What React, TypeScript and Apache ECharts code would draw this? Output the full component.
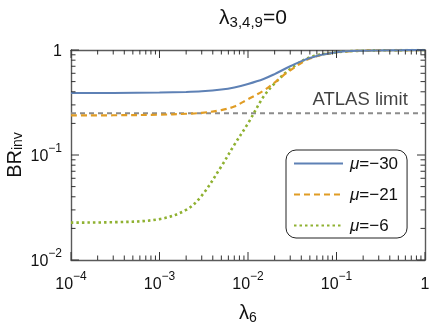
import React, { useEffect, useRef } from "react";
import * as echarts from "echarts";

const FONT = "'Liberation Sans', Arial, Helvetica, sans-serif";

// lambda_6 sample points
const lambda6 = [1e-4, 3e-4, 1e-3, 2e-3, 3e-3, 5e-3, 7e-3, 1e-2, 1.5e-2, 2e-2, 3e-2, 5e-2, 0.1, 0.2, 0.5, 1];
// BR_inv for each mu
const brMuM30 = [0.39, 0.39, 0.393, 0.398, 0.404, 0.42, 0.44, 0.475, 0.53, 0.59, 0.7, 0.84, 0.95, 0.985, 0.997, 1.0];
const brMuM21 = [0.238, 0.239, 0.242, 0.247, 0.252, 0.268, 0.29, 0.34, 0.41, 0.49, 0.64, 0.83, 0.95, 0.985, 0.997, 1.0];
const brMuM6 = [0.0227, 0.0229, 0.0245, 0.03, 0.041, 0.078, 0.125, 0.2, 0.36, 0.48, 0.66, 0.85, 0.95, 0.985, 0.997, 1.0];
const seriesNames = ["μ=−30", "μ=−21", "μ=−6"];
const colors = ["#5E81B5", "#E09C24", "#8FB131"];
const atlasLimit = 0.25;
const atlasLabel = "ATLAS limit";
const atlasLabelX = 0.185;

const xRange = [1e-4, 1];
const yRange = [1e-2, 1];
const xDecades = [-4, -3, -2, -1, 0];
const yDecades = [-2, -1, 0];

function tickList(decades: number[]) {
  const out: [number, number][] = [];
  decades.forEach((d, i) => {
    out.push([Math.pow(10, d), 1]);
    if (i < decades.length - 1) {
      for (let m = 2; m <= 9; m++) out.push([m * Math.pow(10, d), 0]);
    }
  });
  return out;
}

function logLabel(v: number) {
  const e = Math.round(Math.log10(v));
  if (e === 0) return "{b|1}";
  return "{b|10}{s|" + (e < 0 ? "−" + -e : String(e)) + "}";
}

const labelRich = {
  b: { fontSize: 16, lineHeight: 26, fontFamily: FONT, color: "#111" },
  s: { fontSize: 12, lineHeight: 12, verticalAlign: "top", fontFamily: FONT, color: "#111" },
};

export default function App() {
  const ref = useRef<HTMLDivElement>(null);
  useEffect(() => {
    if (!ref.current) return;
    const chart = echarts.init(ref.current, undefined, { renderer: "svg" });
    const xTicks = tickList(xDecades);
    const yTicks = tickList(yDecades);
    const lineData = (ys: number[]) => lambda6.map((x, i) => [x, ys[i]]);
    const dashTypes: any[] = ["solid", [6, 4], [2.5, 3]];
    const widths = [2, 2.2, 2.6];
    const ys = [brMuM30, brMuM21, brMuM6];

    const axisLine = { show: true, lineStyle: { color: "#5a5a5a", width: 1.4 } };
    const tickColor = "#333";

    const option: any = {
      animation: false,
      textStyle: { fontFamily: FONT },
      title: {
        text: "{l|λ}{s|3,4,9}{l|=0}",
        left: 248,
        textAlign: "center",
        top: -2,
        textStyle: {
          fontWeight: "normal",
          rich: {
            l: { fontSize: 21, lineHeight: 26, fontWeight: "normal", fontFamily: FONT, color: "#111" },
            s: { fontSize: 15, lineHeight: 15, fontWeight: "normal", verticalAlign: "bottom", fontFamily: FONT, color: "#111" },
          },
        },
      },
      grid: { left: 71, right: 11, top: 50, bottom: 65, containLabel: false, outerBoundsMode: "none" },
      legend: {
        data: seriesNames,
        orient: "vertical",
        left: 286,
        top: 150,
        itemWidth: 49,
        itemHeight: 14,
        itemGap: 14,
        padding: [5, 9, 4, 7],
        borderColor: "#222",
        borderWidth: 1,
        borderRadius: 10,
        backgroundColor: "#fff",
        itemStyle: { opacity: 0, borderWidth: 0 },
        formatter: (name: string) => "{i|μ}{t|" + name.slice(1) + "}",
        textStyle: {
          padding: [0, 0, 0, 2],
          rich: {
            i: { fontSize: 17, fontStyle: "italic", fontFamily: FONT, color: "#111" },
            t: { fontSize: 17, fontFamily: FONT, color: "#111" },
          },
        },
      },
      xAxis: [
        {
          type: "log",
          logBase: 10,
          min: xRange[0],
          max: xRange[1],
          interval: 1,
          position: "bottom",
          axisLine,
          axisTick: { show: false },
          splitLine: { show: false },
          minorTick: { show: false },
          axisLabel: { margin: 10, formatter: logLabel, rich: labelRich, showMinLabel: true, showMaxLabel: true },
          name: "{l|λ}{s|6}",
          nameLocation: "middle",
          nameGap: 40,
          nameTextStyle: {
            rich: {
              l: { fontSize: 20, lineHeight: 24, fontFamily: FONT, color: "#111" },
              s: { fontSize: 14, lineHeight: 14, verticalAlign: "bottom", fontFamily: FONT, color: "#111" },
            },
          },
        },
        {
          type: "log",
          logBase: 10,
          min: xRange[0],
          max: xRange[1],
          interval: 1,
          position: "top",
          axisLine,
          axisTick: { show: false },
          axisLabel: { show: false },
          splitLine: { show: false },
        },
      ],
      yAxis: [
        {
          type: "log",
          logBase: 10,
          min: yRange[0],
          max: yRange[1],
          interval: 1,
          position: "left",
          axisLine,
          axisTick: { show: false },
          splitLine: { show: false },
          axisLabel: { margin: 9, formatter: logLabel, rich: labelRich, showMinLabel: true, showMaxLabel: true },
          name: "{b|BR}{s|inv}",
          nameLocation: "middle",
          nameRotate: 90,
          nameGap: 47,
          nameMoveOverlap: false,
          nameTextStyle: {
            rich: {
              b: { fontSize: 20, lineHeight: 21, fontFamily: FONT, color: "#111" },
              s: { fontSize: 14, lineHeight: 14, verticalAlign: "bottom", fontFamily: FONT, color: "#111" },
            },
          },
        },
        {
          type: "log",
          logBase: 10,
          min: yRange[0],
          max: yRange[1],
          interval: 1,
          position: "right",
          axisLine,
          axisTick: { show: false },
          axisLabel: { show: false },
          splitLine: { show: false },
        },
      ],
      series: [
        {
          name: "atlas",
          type: "line",
          data: [[xRange[0], atlasLimit], [xRange[1], atlasLimit]],
          symbol: "none",
          lineStyle: { color: "#8c8c8c", width: 2, type: [5, 4] },
          z: 1,
          silent: true,
        },
        {
          name: "atlasLabel",
          type: "scatter",
          data: [[atlasLabelX, atlasLimit]],
          symbolSize: 0,
          label: {
            show: true,
            position: "top",
            distance: 5,
            formatter: atlasLabel,
            fontSize: 18.5,
            fontFamily: FONT,
            color: "#111",
          },
          z: 1,
        },
        ...seriesNames.map((n, i) => ({
          name: n,
          type: "line",
          data: lineData(ys[i]),
          symbol: "none",
          smooth: 0.35,
          color: colors[i],
          lineStyle: { color: colors[i], width: widths[i], type: dashTypes[i] },
          z: 3 + (2 - i),
        })),
        {
          name: "xticks",
          type: "custom",
          data: xTicks,
          silent: true,
          clip: false,
          z: 10,
          renderItem: (params: any, api: any) => {
            const v = api.value(0);
            const len = api.value(1) ? 8 : 4.5;
            const b = api.coord([v, yRange[0]]);
            const t = api.coord([v, yRange[1]]);
            const style = { stroke: tickColor, lineWidth: 1 };
            return {
              type: "group",
              children: [
                { type: "line", shape: { x1: b[0], y1: b[1], x2: b[0], y2: b[1] - len }, style },
                { type: "line", shape: { x1: t[0], y1: t[1], x2: t[0], y2: t[1] + len }, style },
              ],
            };
          },
        },
        {
          name: "yticks",
          type: "custom",
          data: yTicks.map((d) => [xRange[0], d[0], d[1]]),
          silent: true,
          clip: false,
          z: 10,
          renderItem: (params: any, api: any) => {
            const v = api.value(1);
            const len = api.value(2) ? 8 : 4.5;
            const l = api.coord([xRange[0], v]);
            const r = api.coord([xRange[1], v]);
            const style = { stroke: tickColor, lineWidth: 1 };
            return {
              type: "group",
              children: [
                { type: "line", shape: { x1: l[0], y1: l[1], x2: l[0] + len, y2: l[1] }, style },
                { type: "line", shape: { x1: r[0], y1: r[1], x2: r[0] - len, y2: r[1] }, style },
              ],
            };
          },
        },
      ],
    };
    chart.setOption(option);
    return () => chart.dispose();
  }, []);
  return <div ref={ref} style={{ position: "fixed", left: 0, top: 0, width: 436, height: 325 }} />;
}
